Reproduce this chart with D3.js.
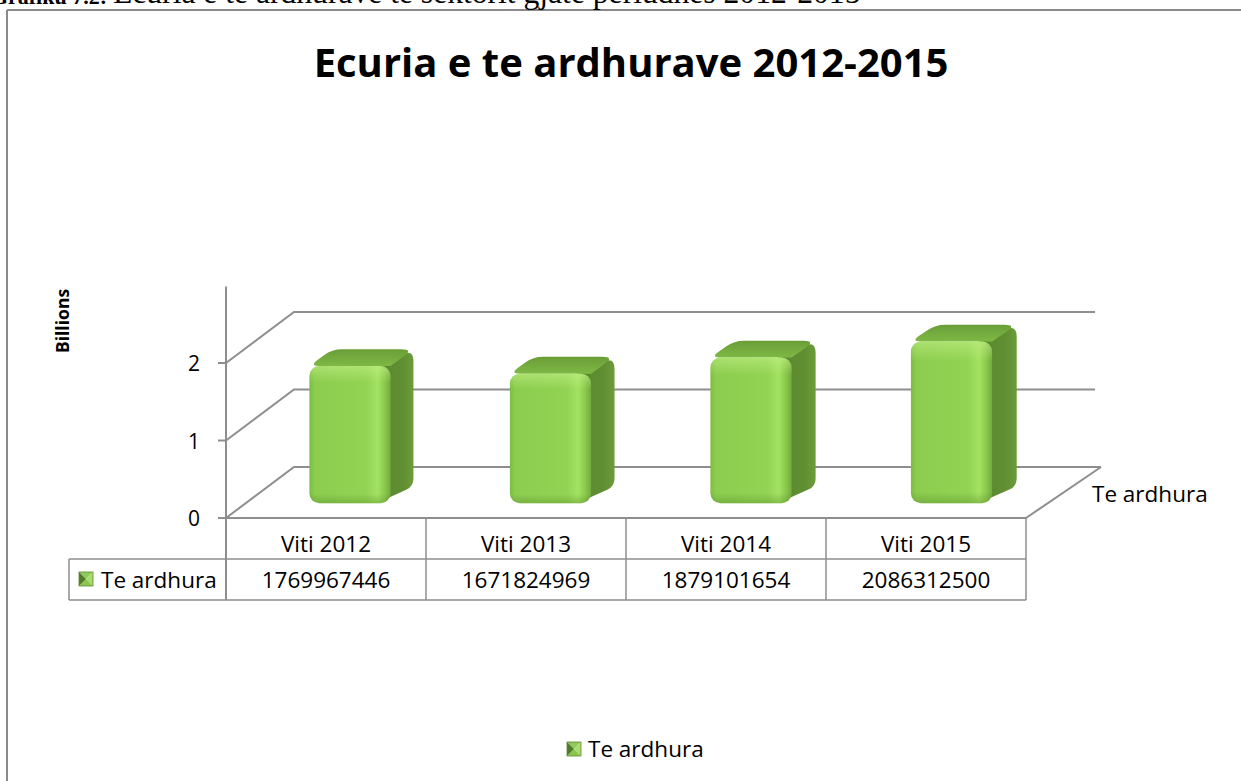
<!DOCTYPE html>
<html>
<head>
<meta charset="utf-8">
<script src="https://cdn.jsdelivr.net/npm/d3@7/dist/d3.min.js"></script>
<style>
  html, body { margin: 0; padding: 0; background: #fff; }
  svg { display: block; }
</style>
</head>
<body>
<svg id="chart" width="1241" height="781"></svg>
<script>
// data
const categories = ["Viti 2012", "Viti 2013", "Viti 2014", "Viti 2015"]
const revenues = [1769967446, 1671824969, 1879101654, 2086312500]
const seriesName = "Te ardhura"
const yTicks = [0, 1, 2]
const yMax = 3 // billions

const svg = d3.select("#chart")
const font = "'Open Sans', 'Noto Sans', sans-serif"
const grid = "#8e8e8e"

// 3d frame: front plane + oblique depth
const floorY = 518, depthY = 51
const x = d3.scaleBand().domain(categories).range([226, 1026]).paddingInner(0).paddingOuter(0)
const h = d3.scaleLinear().domain([0, yMax]).range([0, 232.5])
const dxAt = d3.scaleLinear().domain([226, 1026]).range([68, 75])
function P(px, v, d){ return [px + d*dxAt(px), floorY - h(v) - d*depthY] }

// polygon path with rounded corners (bevel look)
function rounded(pts, rs){
  const n = pts.length
  let path = d3.path()
  for (let i = 0; i < n; i++){
    const p = pts[i], a = pts[(i - 1 + n) % n], b = pts[(i + 1) % n]
    const r = rs[i]
    const la = Math.hypot(a[0]-p[0], a[1]-p[1]), lb = Math.hypot(b[0]-p[0], b[1]-p[1])
    const ra = Math.min(r, la/2), rb = Math.min(r, lb/2)
    const pin = [p[0] + (a[0]-p[0])*ra/la, p[1] + (a[1]-p[1])*ra/la]
    const pout = [p[0] + (b[0]-p[0])*rb/lb, p[1] + (b[1]-p[1])*rb/lb]
    if (i === 0) path.moveTo(pin[0], pin[1]); else path.lineTo(pin[0], pin[1])
    path.quadraticCurveTo(p[0], p[1], pout[0], pout[1])
  }
  path.closePath()
  return path.toString()
}

// defs
const defs = svg.append("defs")
const gFront = defs.append("linearGradient").attr("id", "front").attr("x1", 0).attr("x2", 1).attr("y1", 0).attr("y2", 0)
;[[0, "#7dbd42"], [0.07, "#8ccd4f"], [0.7, "#92d353"], [0.84, "#a3e262"], [0.93, "#8ac84c"], [1, "#72aa3c"]]
  .forEach(s => gFront.append("stop").attr("offset", s[0]).attr("stop-color", s[1]))
const gTopHi = defs.append("linearGradient").attr("id", "tophi").attr("x1", 0).attr("x2", 0).attr("y1", 0).attr("y2", 1)
gTopHi.append("stop").attr("offset", 0).attr("stop-color", "#c6f08a").attr("stop-opacity", 0.55)
gTopHi.append("stop").attr("offset", 0.12).attr("stop-color", "#c6f08a").attr("stop-opacity", 0)
gTopHi.append("stop").attr("offset", 0.93).attr("stop-color", "#4f7d25").attr("stop-opacity", 0)
gTopHi.append("stop").attr("offset", 1).attr("stop-color", "#4f7d25").attr("stop-opacity", 0.35)
const gTop = defs.append("linearGradient").attr("id", "top").attr("x1", 0).attr("x2", 0).attr("y1", 1).attr("y2", 0)
gTop.append("stop").attr("offset", 0).attr("stop-color", "#7fb845")
gTop.append("stop").attr("offset", 1).attr("stop-color", "#699e37")
const gSide = defs.append("linearGradient").attr("id", "side").attr("x1", 0).attr("x2", 1).attr("y1", 0).attr("y2", 0)
gSide.append("stop").attr("offset", 0).attr("stop-color", "#5a882d")
gSide.append("stop").attr("offset", 0.7).attr("stop-color", "#608e32")
gSide.append("stop").attr("offset", 1).attr("stop-color", "#6c9c3a")

// outer frame
svg.append("line").attr("x1", 7).attr("x2", 1241).attr("y1", 10).attr("y2", 10).attr("stroke", "#8a8a8a").attr("stroke-width", 2)
svg.append("line").attr("x1", 7).attr("x2", 7).attr("y1", 10).attr("y2", 781).attr("stroke", "#8a8a8a").attr("stroke-width", 2)

// caption above frame (clipped at the top, as in the document)
svg.append("text").attr("x", 107).attr("y", 4).attr("text-anchor", "end")
  .style("font-family", "'Liberation Serif', 'Times New Roman', serif").style("font-size", "22px").style("font-weight", "bold")
  .text("Grafiku 7.2:")
svg.append("text").attr("x", 113).attr("y", 3)
  .style("font-family", "'Liberation Serif', 'Times New Roman', serif").style("font-size", "31.6px")
  .text("Ecuria e te ardhurave te sektorit gjate periudhes 2012-2015")

// title
svg.append("text").attr("x", 631).attr("y", 77).attr("text-anchor", "middle")
  .style("font-family", font).style("font-size", "40px").style("font-weight", "bold")
  .text("Ecuria e te ardhurave 2012-2015")

// y axis title
svg.append("text").attr("transform", "translate(69,321) rotate(-90)").attr("text-anchor", "middle")
  .style("font-family", font).style("font-size", "17.5px").style("font-weight", "bold")
  .text("Billions")

// walls: gridlines on left wall + back wall
const left = x.range()[0], right = x.range()[1]
const walls = svg.append("g")
yTicks.forEach(t => {
  const a = P(left, t, 0), b = P(left, t, 1), c = P(right, t, 1)
  if (t > 0) c[0] -= 6
  walls.append("polyline").attr("points", [a, b, c].map(p => p.join(",")).join(" "))
    .attr("fill", "none").attr("stroke", grid).attr("stroke-width", 2)
})
// floor right edge + front edge
const fr0 = P(right, 0, 0), fr1 = P(right, 0, 1)
walls.append("line").attr("x1", fr0[0]).attr("y1", fr0[1]).attr("x2", fr1[0]).attr("y2", fr1[1]).attr("stroke", grid).attr("stroke-width", 2)
walls.append("line").attr("x1", left).attr("y1", floorY).attr("x2", right).attr("y2", floorY).attr("stroke", grid).attr("stroke-width", 2)

// vertical axis + ticks + labels
walls.append("line").attr("x1", left).attr("x2", left).attr("y1", floorY - h(yMax) + 1).attr("y2", 600).attr("stroke", grid).attr("stroke-width", 2)
yTicks.forEach(t => {
  const y = floorY - h(t)
  walls.append("line").attr("x1", left - 8).attr("x2", left).attr("y1", y).attr("y2", y).attr("stroke", grid).attr("stroke-width", 2)
  walls.append("text").attr("x", 200).attr("y", y + 8).attr("text-anchor", "end")
    .style("font-family", font).style("font-size", "21px").text(t)
})

// bars
const d0 = 0.29, d1 = 0.62, barW = 81
const bars = svg.append("g")
categories.forEach((c, i) => {
  const v = revenues[i] / 1e9
  const cx = x(c) + x.bandwidth()/2 + 4
  const x0 = cx - barW/2, x1 = cx + barW/2
  const flt = P(x0, v, d0), frt = P(x1, v, d0), frb = P(x1, 0, d0), flb = P(x0, 0, d0)
  const blt = P(x0, v, d1), brt = P(x1, v, d1), brb = P(x1, 0, d1)
  const g = bars.append("g")
  // side face reaches in behind the front face so its round corners close up
  const fi = [frt[0] - 14, frt[1]], bi = [frb[0] - 14, frb[1]]
  g.append("path").attr("d", rounded([fi, brt, brb, bi], [0, 12, 8, 0]))
    .attr("fill", "url(#side)")
  g.append("path").attr("d", rounded([flt, frt, brt, blt], [10, 0, 12, 10]))
    .attr("fill", "url(#top)")
  g.append("rect").attr("x", flt[0]).attr("y", flt[1]).attr("width", frt[0] - flt[0]).attr("height", flb[1] - flt[1])
    .attr("rx", 10).attr("fill", "url(#front)")
  g.append("rect").attr("x", flt[0]).attr("y", flt[1]).attr("width", frt[0] - flt[0]).attr("height", flb[1] - flt[1])
    .attr("rx", 10).attr("fill", "url(#tophi)")
})

// series label at the depth side
svg.append("text").attr("x", 1092).attr("y", 502)
  .style("font-family", font).style("font-size", "22.5px").text(seriesName)

// data table
const table = svg.append("g")
const rowTop = floorY, rowMid = 559, rowBot = 600, leftCell = 69
function hl(x1, x2, y){ table.append("line").attr("x1", x1).attr("x2", x2).attr("y1", y).attr("y2", y).attr("stroke", grid).attr("stroke-width", 1.5) }
function vl(xx, y1, y2){ table.append("line").attr("x1", xx).attr("x2", xx).attr("y1", y1).attr("y2", y2).attr("stroke", grid).attr("stroke-width", 1.5) }
hl(leftCell, right, rowMid)
hl(leftCell, right, rowBot)
vl(leftCell, rowMid, rowBot)
categories.forEach(c => vl(x(c), rowTop, rowBot))
vl(right, rowTop, rowBot)
categories.forEach((c, i) => {
  const cx = x(c) + x.bandwidth()/2
  table.append("text").attr("x", cx).attr("y", 552).attr("text-anchor", "middle")
    .style("font-family", font).style("font-size", "22.5px").text(c)
  table.append("text").attr("x", cx).attr("y", 588).attr("text-anchor", "middle")
    .style("font-family", font).style("font-size", "22.5px").text(revenues[i])
})

// small bevelled legend key
function key(g, kx, ky, s){
  const c = [kx + s/2, ky + s/2]
  const tl = [kx, ky], tr = [kx + s, ky], br = [kx + s, ky + s], bl = [kx, ky + s]
  const faces = [[tl, tr, "#8fc95a"], [tr, br, "#a5dc6c"], [br, bl, "#8ac64f"], [bl, tl, "#4f7b27"]]
  faces.forEach(f => g.append("polygon").attr("points", [f[0], f[1], c].map(p => p.join(",")).join(" ")).attr("fill", f[2]))
  g.append("rect").attr("x", kx).attr("y", ky).attr("width", s).attr("height", s).attr("fill", "none").attr("stroke", "#5e8c30").attr("stroke-width", 0.8)
}
key(table, 79, 572, 14)
table.append("text").attr("x", 101).attr("y", 588)
  .style("font-family", font).style("font-size", "22.5px").text(seriesName)

// legend
const legend = svg.append("g")
key(legend, 567, 742, 14)
legend.append("text").attr("x", 588).attr("y", 757)
  .style("font-family", font).style("font-size", "22.5px").text(seriesName)
</script>
</body>
</html>
